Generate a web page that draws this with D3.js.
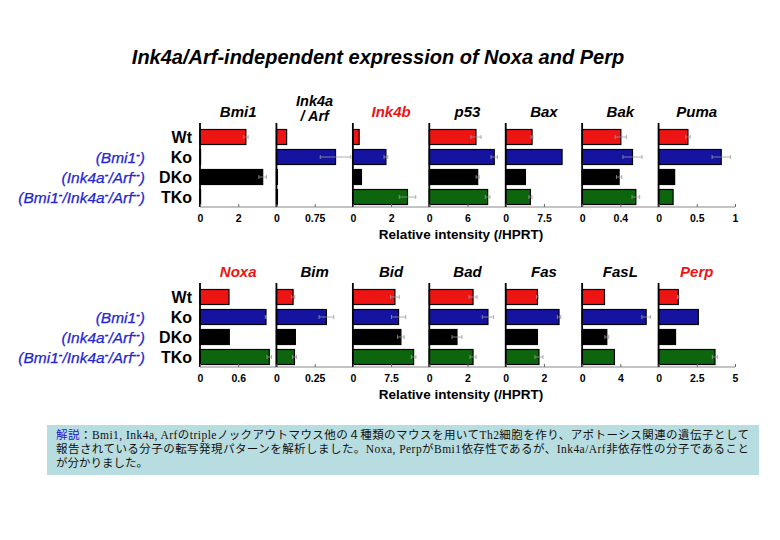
<!DOCTYPE html>
<html><head><meta charset="utf-8">
<script src="https://cdn.jsdelivr.net/npm/d3@7"></script>
<style>body{margin:0;background:#fff;}svg{display:block;}</style>
</head><body>
<svg id="c" width="780" height="540"></svg>
<script>
// ---- data ----
const groups = ["Wt", "Ko", "DKo", "TKo"];
const groupColors = ["#ee1414", "#1414a0", "#000000", "#0d660d"];
const genotypes = [null, ["(Bmi1", "-", ")"], ["(Ink4a", "-", "/Arf", "--", ")"], ["(Bmi1", "-", "/Ink4a", "-", "/Arf", "--", ")"]];

const topGenes = ["Bmi1", "Ink4a|/ Arf", "Ink4b", "p53", "Bax", "Bak", "Puma"];
const topRed = [false, false, true, false, false, false, false];
const topMax = [4, 1.5, 4, 12, 15, 0.8, 1];
const topTicks = [[0, 2], [0, 0.75], [0, 2], [0, 6], [0, 7.5], [0, 0.4], [0, 0.5, 1]];
const topValues = [
  [2.4, 0.03, 3.28, 0.03],
  [0.2, 1.16, 0.02, 0.02],
  [0.33, 1.73, 0.45, 2.86],
  [7.33, 10.2, 7.6, 9.16],
  [5.17, 11.06, 3.87, 4.85],
  [0.405, 0.527, 0.387, 0.562],
  [0.384, 0.82, 0.21, 0.19]
];
const topErrors = [
  [0.12, 0, 0.2, 0],
  [0, 0.3, 0, 0],
  [0, 0.1, 0, 0.43],
  [0.8, 0.5, 0.25, 0.37],
  [0.2, 0, 0, 0.3],
  [0.06, 0.1, 0.028, 0.04],
  [0.03, 0.12, 0, 0]
];

const botGenes = ["Noxa", "Bim", "Bid", "Bad", "Fas", "FasL", "Perp"];
const botRed = [true, false, false, false, false, false, true];
const botMax = [1.2, 0.5, 15, 4, 4, 8, 5];
const botTicks = [[0, 0.6], [0, 0.25], [0, 7.5], [0, 2], [0, 2], [0, 4], [0, 2.5, 5]];
const botValues = [
  [0.455, 1.036, 0.46, 1.088],
  [0.109, 0.327, 0.124, 0.118],
  [8.25, 8.97, 9.43, 11.92],
  [2.29, 3.07, 1.45, 2.29],
  [1.66, 2.79, 1.66, 1.74],
  [2.34, 6.7, 2.58, 3.38],
  [1.29, 2.6, 1.11, 3.69]
];
const botErrors = [
  [0, 0.01, 0, 0.036],
  [0.011, 0.048, 0, 0.013],
  [0.85, 1.4, 0.65, 0.46],
  [0.21, 0.3, 0.26, 0.16],
  [0.05, 0.09, 0, 0.21],
  [0, 0.45, 0.2, 0],
  [0.05, 0, 0, 0.17]
];

const titleText = "Ink4a/Arf-independent expression of Noxa and Perp";
const axisTitle = "Relative intensity (/HPRT)";
const captionLines = [
  ["解説", "：Bmi1, Ink4a, Arfのtripleノックアウトマウス他の４種類のマウスを用いてTh2細胞を作り、アポトーシス関連の遺伝子として"],
  [null, "報告されている分子の転写発現パターンを解析しました。Noxa, PerpがBmi1依存性であるが、Ink4a/Arf非依存性の分子であること"],
  [null, "が分かりました。"]
];

// ---- drawing ----
const svg = d3.select("#c");
const SANS = "Arial, 'Liberation Sans', Helvetica, sans-serif";

svg.append("text").attr("x", 378).attr("y", 64).attr("text-anchor", "middle")
  .attr("font-family", SANS).attr("font-size", 20).attr("font-weight", "bold").attr("font-style", "italic")
  .text(titleText);

const x0 = 200, x1 = 735;
const panelX = d3.scaleBand().domain(d3.range(7)).range([x0, x1]).paddingInner(0).paddingOuter(0);

function drawBlock(offsetY, genes, red, maxes, ticks, values, errors) {
  const g = svg.append("g").attr("transform", `translate(0,${offsetY})`);
  const y = d3.scaleBand().domain(groups).range([127, 207]).paddingInner(0.25).paddingOuter(0.125);
  const axisY = 207;

  // row labels
  groups.forEach((gr, i) => {
    g.append("text").attr("x", 192).attr("y", y(gr) + y.bandwidth() / 2).attr("dy", "0.36em")
      .attr("text-anchor", "end").attr("font-family", SANS).attr("font-weight", "bold").attr("font-size", 16)
      .text(gr);
    if (genotypes[i]) {
      const t = g.append("text").attr("x", 145).attr("y", y(gr) + y.bandwidth() / 2).attr("dy", "0.36em")
        .attr("text-anchor", "end").attr("font-family", SANS).attr("font-style", "italic").attr("font-size", 15.5)
        .attr("stroke", "#2424d4").attr("stroke-width", 0.25)
        .attr("fill", "#2424d4");
      genotypes[i].forEach((part, k) => {
        const ts = t.append("tspan").text(part);
        if (k % 2 === 1) ts.attr("font-size", 11).attr("font-weight", "bold").attr("baseline-shift", "45%");
      });
    }
  });

  // bottom axis line
  g.append("line").attr("x1", x0).attr("x2", x1).attr("y1", axisY).attr("y2", axisY)
    .attr("stroke", "#888").attr("stroke-width", 1);

  genes.forEach((gene, p) => {
    const px = panelX(p);
    const xs = d3.scaleLinear().domain([0, maxes[p]]).range([px, px + panelX.bandwidth()]);

    // header
    const lines = gene.split("|");
    const hx = px + panelX.bandwidth() / 2;
    const col = red[p] ? "#ee1414" : "#000";
    if (lines.length === 1) {
      g.append("text").attr("x", hx).attr("y", 117).attr("text-anchor", "middle")
        .attr("font-family", SANS).attr("font-weight", "bold").attr("font-style", "italic")
        .attr("font-size", 15).attr("fill", col).text(lines[0]);
    } else {
      lines.forEach((ln, k) => {
        g.append("text").attr("x", hx).attr("y", 106 + k * 15).attr("text-anchor", "middle")
          .attr("font-family", SANS).attr("font-weight", "bold").attr("font-style", "italic")
          .attr("font-size", 14.5).attr("fill", col).text(ln);
      });
    }

    // bars
    groups.forEach((gr, i) => {
      const v = values[p][i];
      g.append("rect").attr("x", xs(0)).attr("y", y(gr))
        .attr("width", Math.max(0.5, xs(v) - xs(0))).attr("height", y.bandwidth())
        .attr("fill", groupColors[i]).attr("stroke", "#000").attr("stroke-width", 1.2);
      const e = errors[p][i];
      if (e > 0) {
        const cy = y(gr) + y.bandwidth() / 2;
        g.append("line").attr("x1", xs(v - e)).attr("x2", xs(v + e)).attr("y1", cy).attr("y2", cy)
          .attr("stroke", "#999").attr("stroke-width", 0.8);
        [v - e, v + e].forEach(ev => {
          g.append("line").attr("x1", xs(ev)).attr("x2", xs(ev)).attr("y1", cy - 2).attr("y2", cy + 2)
            .attr("stroke", "#999").attr("stroke-width", 0.8);
        });
      }
    });

    // vertical axis
    g.append("line").attr("x1", xs(0)).attr("x2", xs(0)).attr("y1", 123).attr("y2", axisY)
      .attr("stroke", "#000").attr("stroke-width", 1.8);

    // ticks
    const ax = d3.axisBottom(xs).tickValues(ticks[p]).tickSize(-3).tickSizeOuter(0)
      .tickFormat(d => String(d));
    const axg = g.append("g").attr("transform", `translate(0,${axisY})`).call(ax);
    axg.select(".domain").remove();
    axg.selectAll(".tick line").attr("stroke", "#666");
    axg.selectAll(".tick text").attr("font-family", SANS).attr("font-weight", "bold")
      .attr("font-size", 10.5).attr("fill", "#000").attr("y", 8);
  });

  g.append("text").attr("x", 461).attr("y", 239).attr("text-anchor", "middle")
    .attr("font-family", SANS).attr("font-weight", "bold").attr("font-size", 13.5)
    .text(axisTitle);
}

drawBlock(0, topGenes, topRed, topMax, topTicks, topValues, topErrors);
drawBlock(160, botGenes, botRed, botMax, botTicks, botValues, botErrors);

// caption
svg.append("rect").attr("x", 47).attr("y", 425).attr("width", 712).attr("height", 50).attr("fill", "#b8dde0");
captionLines.forEach((ln, k) => {
  const t = svg.append("text").attr("x", 56).attr("y", 439 + k * 14)
    .attr("font-family", "'Liberation Serif', 'Noto Sans CJK JP', serif").attr("font-size", 11.5).attr("fill", "#111");
  if (k < 2) t.attr("textLength", 693).attr("lengthAdjust", "spacing");
  if (ln[0]) t.append("tspan").attr("fill", "#2020d8").attr("font-family", "'Noto Sans CJK JP', sans-serif").text(ln[0]);
  t.append("tspan").text(ln[1]);
});
</script>
</body></html>
